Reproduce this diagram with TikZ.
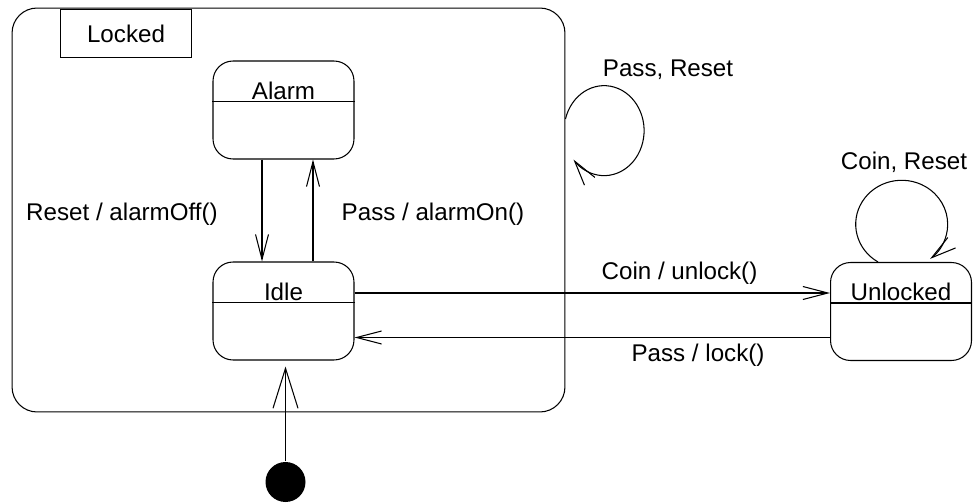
\documentclass[tikz,border=0pt]{standalone}
\usepackage{fontspec}
\setmainfont{Liberation Sans}
\usetikzlibrary{arrows.meta,calc}

\begin{document}
\begin{tikzpicture}[x=0.02cm, y=0.02cm, line width=0.6pt,
  >={Straight Barb[length=0.5cm,width=0.26cm]},
  every node/.style={font=\fontsize{13.75}{16}\selectfont},
  simplestate/.style={draw, rounded corners=0.4cm, minimum width=2.82cm, minimum height=1.96cm, inner sep=0pt},
  statename/.style={anchor=base, inner sep=0pt},
  bighead/.style={-{Straight Barb[length=0.8cm,width=0.5cm]}}]
\useasboundingbox (0,0) rectangle (976,-503);
% composite state
\node[draw, rounded corners=0.5cm, minimum width=11.06cm, minimum height=8.08cm] (locked) at (288.5,-210) {};
\node[draw, anchor=north west, minimum width=2.62cm, minimum height=0.96cm] (lockedtab) at (60,-9) {Locked};
% substates
\node[simplestate] (alarm) at (283.5,-110) {};
\node[simplestate] (idle) at (283.5,-311) {};
\node[simplestate] (unlocked) at (901,-311.5) {};
\foreach \s/\t in {alarm/Alarm, idle/Idle, unlocked/Unlocked} {
  \draw ($(\s.north west)+(0,-41)$) -- ($(\s.north east)+(0,-41)$);
  \node[statename] (\s name) at ($(\s.north)+(0,-39)$) {\t};
}
% initial state
\node[circle, fill, minimum size=0.8cm, inner sep=0pt] (init) at (285.5,-482) {};
\draw[bighead, shorten >=0.12cm] (init) -- (init |- idle.south);
% transitions
\draw[->] ([xshift=-0.43cm]alarm.south) -- ([xshift=-0.43cm]idle.north);
\draw[->] ([xshift=0.59cm]idle.north) -- ([xshift=0.59cm]alarm.south);
\draw[->] ([yshift=0.36cm]idle.east) -- ([yshift=0.36cm]idle.east -| unlocked.west);
\draw[->] ([yshift=-0.52cm]unlocked.west) -- ([yshift=-0.52cm]unlocked.west -| idle.east);
\node (resetlbl) at (122,-214) {Reset / alarmOff()};
\node (passlbl) at (433,-214) {Pass / alarmOn()};
\node (coinlbl) at (679.5,-273) {Coin / unlock()};
\node (locklbl) at (698,-355) {Pass / lock()};
% self loops
\draw[->] ($(locked.east)+(0,91)$) arc[start angle=165, end angle=-140, x radius=0.8cm, y radius=0.9cm];
\node (lockedloop) at (668,-70) {Pass, Reset};
\draw[->] ($(unlocked.north)+(-23,0)$) arc[start angle=239, end angle=-52, x radius=0.92cm, y radius=0.88cm];
\node (unlockedloop) at (904,-162) {Coin, Reset};
\end{tikzpicture}
\end{document}
